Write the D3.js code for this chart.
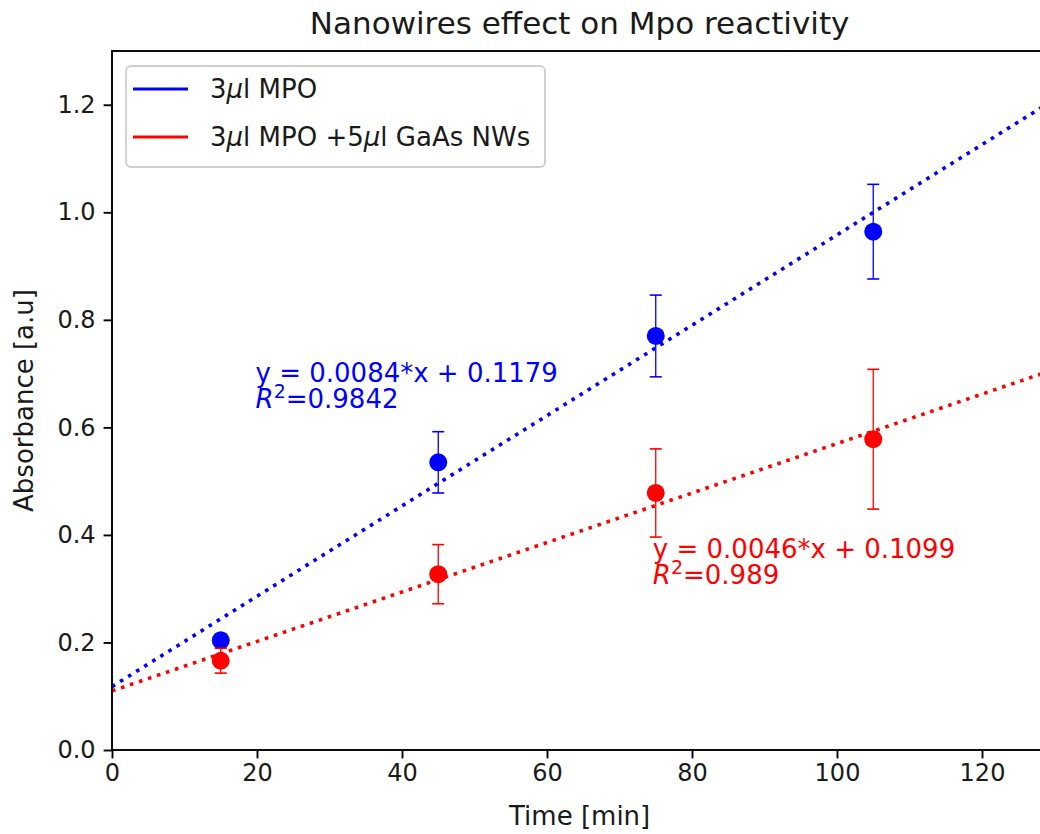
<!DOCTYPE html>
<html>
<head>
<meta charset="utf-8">
<script src="https://cdn.jsdelivr.net/npm/d3@7"></script>
<style>
  body { margin: 0; background: #fff; }
  svg { display: block; font-family: "DejaVu Sans", sans-serif; }
</style>
</head>
<body>
<div id="chart"></div>
<script>
const times = [15, 45, 75, 105];
const mpo = [0.204, 0.535, 0.770, 0.964];
const mpoErr = [0.012, 0.057, 0.076, 0.088];
const mpoNw = [0.166, 0.327, 0.478, 0.578];
const mpoNwErr = [0.023, 0.055, 0.082, 0.130];

// fitted lines, as printed on the chart
const fitSlopes = [0.0084, 0.0046];
const fitIntercepts = [0.1179, 0.1099];
const fitR2 = ['0.9842', '0.989'];
const fitRange = [0, 129];

const xTicks = [0, 20, 40, 60, 80, 100, 120];
const yTicks = [0, 0.2, 0.4, 0.6, 0.8, 1.0, 1.2];

const seriesNames = ['MPO', 'MPO +5'];
const colors = ['#0000ff', '#ff0000'];
// where the fit equations sit (data coords, first line baseline)
const labelPos = [[19.8, 0.684], [74.6, 0.358]];

const width = 1040, height = 834;
const margin = {left: 112, top: 51, bottom: 84};

const svg = d3.select('#chart').append('svg')
    .attr('width', width)
    .attr('height', height);

const x = d3.scaleLinear().domain([0, 129]).range([margin.left, margin.left + 129 * 7.25]);
const y = d3.scaleLinear().domain([0, 1.3]).range([height - margin.bottom, margin.top]);

const series = [
    {values: mpo, err: mpoErr},
    {values: mpoNw, err: mpoNwErr}
];

// fit lines (dotted)
series.forEach((s, i) => {
    const pts = fitRange.map(t => [t, fitSlopes[i] * t + fitIntercepts[i]]);
    svg.append('path')
        .datum(pts)
        .attr('d', d3.line().x(d => x(d[0])).y(d => y(d[1])))
        .attr('fill', 'none')
        .attr('stroke', colors[i])
        .attr('stroke-width', 3.6)
        .attr('stroke-dasharray', '3.6 5.9');
});

// error bars + markers
series.forEach((s, i) => {
    const g = svg.append('g').attr('fill', colors[i]).attr('stroke', colors[i]);
    const rows = times.map((t, k) => ({t, v: s.values[k], e: s.err[k]}));

    g.selectAll('.bar').data(rows).enter().append('line')
        .attr('x1', d => x(d.t)).attr('x2', d => x(d.t))
        .attr('y1', d => y(d.v - d.e)).attr('y2', d => y(d.v + d.e))
        .attr('stroke-width', 1.3);

    g.selectAll('.cap').data(rows.flatMap(d => [d.v - d.e, d.v + d.e].map(v => ({t: d.t, v}))))
        .enter().append('line')
        .attr('x1', d => x(d.t) - 6).attr('x2', d => x(d.t) + 6)
        .attr('y1', d => y(d.v)).attr('y2', d => y(d.v))
        .attr('stroke-width', 1.6);

    g.selectAll('circle').data(rows).enter().append('circle')
        .attr('cx', d => x(d.t))
        .attr('cy', d => y(d.v))
        .attr('r', 9)
        .attr('stroke', 'none');
});

// fit equations
series.forEach((s, i) => {
    const t = svg.append('text')
        .attr('x', x(labelPos[i][0]))
        .attr('y', y(labelPos[i][1]))
        .attr('fill', colors[i])
        .attr('font-size', 26);
    t.append('tspan')
        .text(`y = ${fitSlopes[i]}*x + ${fitIntercepts[i]}`);
    const l2 = t.append('tspan')
        .attr('x', x(labelPos[i][0]))
        .attr('dy', 26);
    l2.append('tspan').attr('font-style', 'italic').text('R');
    l2.append('tspan').attr('font-size', 19).attr('dy', -10).text('2');
    l2.append('tspan').attr('dy', 10).text('=' + fitR2[i]);
});

// axes
const xAxis = svg.append('g')
    .attr('transform', `translate(0,${y(0)})`)
    .call(d3.axisBottom(x).tickValues(xTicks).tickSize(8.4).tickPadding(6).tickFormat(d3.format('d')));
const yAxis = svg.append('g')
    .attr('transform', `translate(${x(0)},0)`)
    .call(d3.axisLeft(y).tickValues(yTicks).tickSize(8.4).tickPadding(8).tickFormat(d3.format('.1f')));

[xAxis, yAxis].forEach(a => {
    a.select('.domain').remove();
    a.selectAll('.tick line').attr('stroke', '#000').attr('stroke-width', 1.9);
    a.selectAll('.tick text')
        .attr('font-family', '"DejaVu Sans", sans-serif')
        .attr('font-size', 24)
        .attr('fill', '#1a1a1a');
});

// spines
svg.append('rect')
    .attr('x', x(0)).attr('y', y(1.3))
    .attr('width', x(129) - x(0)).attr('height', y(0) - y(1.3))
    .attr('fill', 'none')
    .attr('stroke', '#000')
    .attr('stroke-width', 1.9);

// titles
svg.append('text')
    .attr('x', (x(0) + x(129)) / 2).attr('y', 34)
    .attr('text-anchor', 'middle')
    .attr('font-size', 31)
    .attr('fill', '#1a1a1a')
    .text('Nanowires effect on Mpo reactivity');

svg.append('text')
    .attr('x', (x(0) + x(129)) / 2).attr('y', 825)
    .attr('text-anchor', 'middle')
    .attr('font-size', 26)
    .attr('fill', '#1a1a1a')
    .text('Time [min]');

svg.append('text')
    .attr('transform', `translate(33,${(y(0) + y(1.3)) / 2}) rotate(-90)`)
    .attr('text-anchor', 'middle')
    .attr('font-size', 26)
    .attr('fill', '#1a1a1a')
    .text('Absorbance [a.u]');

// legend
const legend = svg.append('g').attr('transform', 'translate(126,66)');
legend.append('rect')
    .attr('width', 419).attr('height', 101)
    .attr('rx', 5)
    .attr('fill', '#fff').attr('fill-opacity', 0.8)
    .attr('stroke', '#d0d0d0').attr('stroke-width', 1.9);

seriesNames.forEach((name, i) => {
    const row = legend.append('g').attr('transform', `translate(0,${23 + i * 48})`);
    row.append('line')
        .attr('x1', 7).attr('x2', 62)
        .attr('stroke', colors[i]).attr('stroke-width', 3.2);
    const t = row.append('text')
        .attr('x', 84).attr('y', 9)
        .attr('font-size', 26)
        .attr('fill', '#1a1a1a');
    t.append('tspan').text('3');
    t.append('tspan').attr('font-style', 'italic').text('μ');
    t.append('tspan').text('l MPO');
    if (i === 1) {
        t.append('tspan').text(' +5');
        t.append('tspan').attr('font-style', 'italic').text('μ');
        t.append('tspan').text('l GaAs NWs');
    }
});
</script>
</body>
</html>
